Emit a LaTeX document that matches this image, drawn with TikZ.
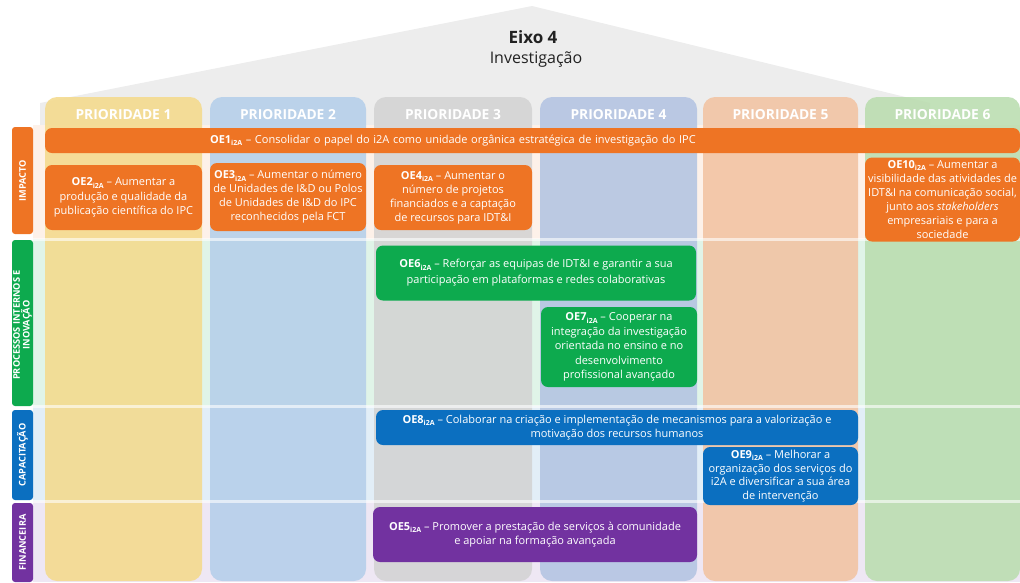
\documentclass[tikz,border=0pt]{standalone}
\usepackage{fontspec}
\setmainfont{Open Sans}
\newcommand{\oen}[1]{\textbf{OE#1}\raisebox{-0.4ex}{\fontsize{7}{7}\selectfont\textbf{i2A}}}
\definecolor{roofgray}{HTML}{EDEDED}
\definecolor{colA}{HTML}{F4DA8C}
\definecolor{colB}{HTML}{B5CFEA}
\definecolor{colC}{HTML}{D3D3D3}
\definecolor{colD}{HTML}{B3C4E2}
\definecolor{colE}{HTML}{F2C3A2}
\definecolor{colF}{HTML}{BADDAF}
\definecolor{oeorange}{HTML}{EE7424}
\definecolor{oegreen}{HTML}{0DAA4E}
\definecolor{oeblue}{HTML}{0B6FC0}
\definecolor{oepurple}{HTML}{7232A0}
\definecolor{titlegray}{HTML}{222222}
\begin{document}
\begin{tikzpicture}[x=1pt,y=-1pt,
  colbox/.style={rounded corners=12pt},
  hdr/.style={text=white,font=\fontsize{13.8}{16}\selectfont\bfseries},
  lblbox/.style={rounded corners=3pt},
  lbltext/.style={rotate=90,text=white,align=center,font=\fontsize{9.2}{9.8}\selectfont\bfseries},
  oebox/.style={rounded corners=7pt,text=white,align=center,inner sep=0pt,
    font=\fontsize{11}{14.5}\selectfont},
  sep/.style={white,opacity=0.6,line width=2.5pt}
]
\useasboundingbox (0,0) rectangle (1020,582);
% roof
\fill[roofgray] (40,103) -- (532,6) -- (930,103) -- (930,130) -- (40,130) -- cycle;
\node[font=\fontsize{17}{20}\selectfont\bfseries,text=titlegray] (title) at (533,37) {Eixo 4};
\node[font=\fontsize{16}{19}\selectfont,text=titlegray] (subtitle) at (536,60) {Investigação};
% row tints
\fill[oeorange!10] (33,125) rectangle (1020,239);
\fill[oegreen!13] (33,239) rectangle (1020,406);
\fill[oeblue!12] (33,406) rectangle (1020,501);
\fill[oepurple!12] (33,501) rectangle (1020,582);
% columns
\fill[colbox,colA,opacity=0.88] (45,97) rectangle (202,581);
\fill[colbox,colB,opacity=0.88] (210,97) rectangle (366,581);
\fill[colbox,colC,opacity=0.88] (374,97) rectangle (532,581);
\fill[colbox,colD,opacity=0.88] (540,97) rectangle (697,581);
\fill[colbox,colE,opacity=0.88] (703,97) rectangle (858,581);
\fill[colbox,colF,opacity=0.88] (865,97) rectangle (1020,581);
\node[hdr] (p1) at (123.5,115) {PRIORIDADE 1};
\node[hdr] (p2) at (288,115) {PRIORIDADE 2};
\node[hdr] (p3) at (453,115) {PRIORIDADE 3};
\node[hdr] (p4) at (618.5,115) {PRIORIDADE 4};
\node[hdr] (p5) at (780.5,115) {PRIORIDADE 5};
\node[hdr] (p6) at (942.5,115) {PRIORIDADE 6};
% row separators
\draw[sep] (33,239.5) -- (1020,239.5);
\draw[sep] (33,406.5) -- (1020,406.5);
\draw[sep] (33,501.5) -- (1020,501.5);
% row labels
\fill[lblbox,oeorange] (12,127) rectangle (33,234);
\node[lbltext] (limp) at (22.5,180.5) {IMPACTO};
\fill[lblbox,oegreen] (12,240) rectangle (33,406);
\node[lbltext] (lpro) at (22.5,325) {PROCESSOS INTERNOS E\\INOVAÇÃO};
\fill[lblbox,oeblue] (12,410) rectangle (33,500);
\node[lbltext] (lcap) at (22.5,455) {CAPACITAÇÃO};
\fill[lblbox,oepurple] (12,503) rectangle (33,582);
\node[lbltext] (lfin) at (22.5,542.5) {FINANCEIRA};
% objective boxes
\node[oebox,fill=oeorange,minimum width=975pt,minimum height=25pt,text width=975pt,align=left,
  execute at begin node={\hspace*{165pt}}] (oe1) at (532.5,140.5)
  {\oen{1} – Consolidar o papel do i2A como unidade orgânica estratégica de investigação do IPC};
\node[oebox,fill=oeorange,minimum width=157pt,minimum height=65pt] (oe2) at (123.5,197.5)
  {\oen{2} – Aumentar a\\produção e qualidade da\\publicação científica do IPC};
\node[oebox,fill=oeorange,minimum width=156pt,minimum height=68pt,font=\fontsize{11}{14}\selectfont] (oe3) at (288,197)
  {\oen{3} – Aumentar o número\\de Unidades de I\&D ou Polos\\de Unidades de I\&D do IPC\\reconhecidos pela FCT};
\node[oebox,fill=oeorange,minimum width=158pt,minimum height=65pt,font=\fontsize{11}{14}\selectfont] (oe4) at (453,197.5)
  {\oen{4} – Aumentar o\\número de projetos\\financiados e a captação\\de recursos para IDT\&I};
\node[oebox,fill=oeorange,minimum width=155pt,minimum height=84pt,font=\fontsize{11}{14}\selectfont] (oe10) at (942.5,199.5)
  {\oen{10} – Aumentar a\\visibilidade das atividades de\\IDT\&I na comunicação social,\\junto aos \textit{stakeholders}\\empresariais e para a\\sociedade};
\node[oebox,fill=oegreen,minimum width=320pt,minimum height=55pt,font=\fontsize{11}{16}\selectfont] (oe6) at (536,273)
  {\oen{6} – Reforçar as equipas de IDT\&I e garantir a sua\\participação em plataformas e redes colaborativas};
\node[oebox,fill=oegreen,minimum width=156pt,minimum height=80pt] (oe7) at (619,347)
  {\oen{7} – Cooperar na\\integração da investigação\\orientada no ensino e no\\desenvolvimento\\profissional avançado};
\node[oebox,fill=oeblue,minimum width=482pt,minimum height=35pt,font=\fontsize{11}{13.5}\selectfont] (oe8) at (617,427.5)
  {\oen{8} – Colaborar na criação e implementação de mecanismos para a valorização e\\motivação dos recursos humanos};
\node[oebox,fill=oeblue,minimum width=155pt,minimum height=58pt,font=\fontsize{11}{13.5}\selectfont] (oe9) at (780.5,476)
  {\oen{9} – Melhorar a\\organização dos serviços do\\i2A e diversificar a sua área\\de intervenção};
\node[oebox,fill=oepurple,minimum width=324pt,minimum height=55pt] (oe5) at (535,534.5)
  {\oen{5} – Promover a prestação de serviços à comunidade\\e apoiar na formação avançada};
\end{tikzpicture}
\end{document}
